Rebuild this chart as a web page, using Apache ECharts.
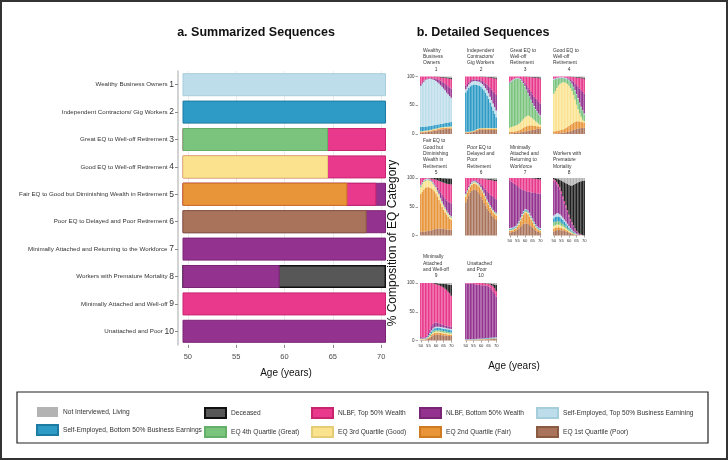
<!DOCTYPE html>
<html><head><meta charset="utf-8">
<script src="https://cdn.jsdelivr.net/npm/echarts@6/dist/echarts.min.js"></script>
<style>html,body{margin:0;padding:0;background:#fff}#c{width:728px;height:460px}</style>
</head><body><div id="c"></div>
<script>
// ================= DATA =================
const clusterNames = ['Wealthy Business Owners','Independent Contractors/ Gig Workers','Great EQ to Well-off Retirement','Good EQ to Well-off Retirement','Fair EQ to Good but Diminishing Wealth in Retirement','Poor EQ to Delayed and Poor Retirement','Minimally Attached and Returning to the Workforce','Workers with Premature Mortality','Minimally Attached and Well-off','Unattached and Poor'];
const clusterNumbers = ['1','2','3','4','5','6','7','8','9','10'];
const ageTicks = [50,55,60,65,70];
const ages = ['50','51','52','53','54','55','56','57','58','59','60','61','62','63','64','65','66','67','68','69','70'];
const stateNames = ['EQ 1st Quartile (Poor)','EQ 2nd Quartile (Fair)','EQ 3rd Quartile (Good)','EQ 4th Quartile (Great)','Self-Employed, Bottom 50% Business Earnings','Self-Employed, Top 50% Business Earnining','NLBF, Bottom 50% Wealth','NLBF, Top 50% Wealth','Deceased','Not Interviewed, Living'];

// Panel a: age at which each summarized state ends (later states are drawn underneath earlier ones)
const endPoor      = [null,null,null,null,null,68.5,null,null,null,null];
const endFair      = [null,null,null,null,66.5,null,null,null,null,null];
const endGood      = [null,null,null,64.5,null,null,null,null,null,null];
const endGreat     = [null,null,64.5,null,null,null,null,null,null,null];
const endSEBottom  = [null,70.5,null,null,null,null,null,null,null,null];
const endSETop     = [70.5,null,null,null,null,null,null,null,null,null];
const endNBottom   = [null,null,null,null,70.5,70.5,70.5,59.5,null,70.5];
const endNTop      = [null,null,70.5,70.5,69.5,null,null,null,70.5,null];
const endDeceased  = [null,null,null,null,null,null,null,70.5,null,null];

// Panel b: % composition per age 50..70
const p1Poor=[2,2,2.5,3,3,3.5,4,4.5,5,5.5,6,6.5,7,7.5,8,8,8.5,8.5,9,9,9];
const p1Fair=[1.5,1.5,1.5,1.5,1.5,1.5,1.5,1.5,2,2,2,2,2.5,2.5,2.5,2.5,2.5,2.5,2.5,2.5,2.5];
const p1Good=[1,1,1,1,1,1,1,1,1,1,1,1,1,1,1,1,1,1,1,1,1];
const p1Great=[0.5,0.5,0.5,0.5,0.5,0.5,0.5,0.5,0.5,0.5,0.5,0.5,0.5,0.5,0.5,0.5,0.5,0.5,0.5,0.5,0.5];
const p1SEBottom=[7,7,7,7,7,7,7,7,6.5,6.5,6.5,6.5,6,6,6,6.5,6.5,7,7,7.5,8];
const p1SETop=[72,76,78.5,81,82,82.5,82.5,81.5,80,78.5,76,73.5,71,67.5,64,60.5,57,52.5,49,45.5,42];
const p1NBottom=[3,2,2,1,1.5,1,1,1.5,2,2.5,4,5,6,8,9,10,11,13,14,15,16];
const p1NTop=[13,10,7,5,3.5,3,2.5,2.5,3,3,3.5,4,5,5.5,7,9,10.5,12,13.5,15,16.5];
const p1Dec=[0,0,0,0,0,0,0,0,0,0.3,0.3,0.5,0.5,0.8,1,1,1.2,1.5,1.7,2,2.3];
const p1NotInt=[0,0,0,0,0,0,0,0,0,0.2,0.2,0.5,0.5,0.7,1,1,1.3,1.5,1.8,2,2.2];

const p2Poor=[2,2,2,2.5,3,3.5,4,5,6,7,7.5,7.5,7.5,7,7,7,7,7,7,7,7];
const p2Fair=[1,1,1,1,1,1,1.5,2,2,2,2,2,2,2,2,2,2,2,2,2,2];
const p2Good=[0.5,0.5,0.5,0.5,0.5,0.5,0.5,0.5,0.5,0.5,0.5,0.5,0.5,1,1,1,1,1,1,1,1];
const p2Great=[0.5,0.5,0.5,0.5,0.5,0.5,0.5,0.5,0.5,0.5,0.5,0.5,0.5,0.5,0.5,0.5,0.5,0.5,0.5,0.5,0.5];
const p2SEBottom=[68,72,76,78.5,80,80.5,79.5,77.5,76,74,71.5,68.5,65.5,61.5,56.5,50.5,44.5,37.5,30.5,24.5,18.5];
const p2SETop=[6,6,6,6,6,6,6,6.5,6.5,7,7,8,8,8,9,10,10,11,12,12,12];
const p2NBottom=[6,5,4,3,3,3,3,3,3,3,4,5,6,8,10,12,15,18,21,24,27];
const p2NTop=[16,13,10,8,6,5,5,5,5.5,6,6.5,7.5,9,11,12.5,15.5,18,20.5,23,25.5,28];
const p2Dec=[0,0,0,0,0,0,0,0,0,0,0.3,0.3,0.6,0.5,0.8,0.7,1,1.3,1.5,1.8,2];
const p2NotInt=[0,0,0,0,0,0,0,0,0,0,0.2,0.2,0.4,0.5,0.7,0.8,1,1.2,1.5,1.7,2];

const p3Poor=[1.5,1.5,1.5,2,2,2,2.5,3,3.5,4,4.5,5,5.5,6,6.5,7,7.5,8,8.5,9,9];
const p3Fair=[2.5,2.5,2.5,2.5,3,3.5,4,4.5,5.5,6.5,7.5,8.5,9,9,8.5,8,7,6,5,4,3.5];
const p3Good=[7,8,9,9.5,10,10.5,11.5,12.5,14,15.5,17,17.5,17.5,16,14,12,10.5,8,6.5,5,3.5];
const p3Great=[77,79,80,80.5,80.5,80,77.5,74,68,61,53,45,38,33,29,25,22,20,18,16,15];
const p3SEBottom=[0.5,0.5,0.5,0.5,0.5,0.5,0.5,0.5,0.5,0.5,0.5,0.5,0.5,0.5,0.5,0.5,0.5,0.5,0.5,0.5,0.5];
const p3SETop=[1,1,1,1,1,1,1,1,1,1,1,1,1,1,1,1,1,1,1,1,1];
const p3NBottom=[1.5,0.5,0.5,0.5,0.5,0.5,0.5,1.5,2.5,3.5,5.5,7.5,9.5,11.5,13.5,15.5,16.5,18.5,19.5,20.5,20.5];
const p3NTop=[9,7,5,3.5,2.5,2,2.5,3,5,8,10.5,14.5,18,22,25.5,29.5,33,36,38.5,41,43.5];
const p3Dec=[0,0,0,0,0,0,0,0,0,0,0.3,0.3,0.5,0.5,0.8,0.8,1,1,1.3,1.5,1.8];
const p3NotInt=[0,0,0,0,0,0,0,0,0,0,0.2,0.2,0.5,0.5,0.7,0.7,1,1,1.2,1.5,1.7];

const p4Poor=[1,1,1,1.5,1.5,2,2,2.5,3,3.5,4,5,6,7,8,9,9.5,10,10.5,11,11];
const p4Fair=[4,4,4.5,4.5,5,5,6,6.5,7.5,8.5,10,11,12,13,13,13,12.5,11.5,10.5,9.5,9];
const p4Good=[65,70,74.5,78,80.5,82,82,81,78.5,75,70,64,57,48,39,29,21,14.5,9,4.5,2];
const p4Great=[24,20,16,12.5,10,8,7,6.5,7,8,9,10,11,13,15,17,18,17,16,15,12];
const p4SEBottom=[0.5,0.5,0.5,0.5,0.5,0.5,0.5,0.5,0.5,0.5,0.5,0.5,0.5,0.5,0.5,0.5,0.5,0.5,0.5,0.5,0.5];
const p4SETop=[1,1,1,1,1,1,1,1,1,1,1,1,1,1,1,1,1,1,1,1,1];
const p4NBottom=[0.5,0.5,0.5,0.5,0,0,0,0.5,0.5,1,1.5,3.5,5.5,8.5,11.5,15.5,19.5,24.5,28.5,31.5,34.5];
const p4NTop=[4,3,2,1.5,1.5,1.5,1.5,1.5,2,2.5,3.5,4.5,6,8,10.5,13,16,18.5,21,23.5,26];
const p4Dec=[0,0,0,0,0,0,0,0,0,0,0.3,0.3,0.5,0.5,0.8,1,1,1.2,1.5,1.7,2];
const p4NotInt=[0,0,0,0,0,0,0,0,0,0,0.2,0.2,0.5,0.5,0.7,1,1,1.3,1.5,1.8,2];

const p5Poor=[7,7,7,7,7.5,8,8.5,9,10,11,11.5,12,12,12,12,11.5,11,10.5,10,10,10];
const p5Fair=[65,69,73,76,76.5,76,75,73,70,66,61.5,56,50,44,38,33.5,29,25.5,22,19,17];
const p5Good=[12,13,13,12,12,12,11.5,11,10,9,9,8,8,7,7,6,6,5,5,4,4];
const p5Great=[2,2,1.5,1.5,1,1,1,1,1,1,1,1,1,1,1,1,1,1,1,1,1];
const p5SEBottom=[0.5,0.5,0.5,0.5,0.5,0.5,0.5,0.5,0.5,0.5,0.5,0.5,0.5,0.5,0.5,0.5,0.5,0.5,0.5,0.5,0.5];
const p5SETop=[1,1,1,1,1,1,1,1,1,1,1,1,1,1,1,1,1,1,1,1,1];
const p5NBottom=[1,0.5,0.5,0.5,0.5,0.5,0.5,1,1.5,2,2.5,4.5,6.5,9.5,11.5,13.5,15.5,17.5,19.5,21.5,22.5];
const p5NTop=[11.5,7,3.5,1.5,1,1,1.5,2.5,4.5,7.5,10,13,16,19,22,25,27,29,30.5,32,32.5];
const p5Dec=[0,0,0,0,0,0,0.5,1,1.5,2,3,4,5,6,6.7,7.5,8.5,9.2,9.5,10,10.3];
const p5NotInt=[0,0,0,0,0,0,0,0,0,0,0,0,0,0,0.3,0.5,0.5,0.8,1,1,1.2];

const p6Poor=[58,64,70,75,78,80,80,79,76,72,67,62,57,52,47,43,39,35,32,29,27];
const p6Fair=[10,10,10,10,10,10,10,10,11,12,13,13,13,12,11,10,9,9,8,8,8];
const p6Good=[2,2,2,2,2,2,2,2,2,2,2,2,2,2,2,2,2,2,2,2,2];
const p6Great=[1,1,1,1,1,1,1,1,1,1,1,1,1,1,1,1,1,1,1,1,1];
const p6SEBottom=[0.5,0.5,0.5,0.5,0.5,0.5,0.5,0.5,0.5,0.5,0.5,0.5,0.5,0.5,0.5,0.5,0.5,0.5,0.5,0.5,0.5];
const p6SETop=[1,1,1,1,1,1,1,1,1,1,1,1,1,1,1,1,1,1,1,1,1];
const p6NBottom=[3.5,3.5,2.5,1.5,1.5,1,1.5,2,2.5,3.5,4.5,6.5,8.5,11.5,14.5,16.5,18.5,20.5,22.5,23.5,23.5];
const p6NTop=[24,18,13,9,6,4.5,4,4.5,5.5,7.5,10,13,15.5,18,20.5,23,25.5,27,28.5,30,31.5];
const p6Dec=[0,0,0,0,0,0,0,0,0.3,0.3,0.5,0.5,0.8,1,1.2,1.5,1.7,2,2.2,2.5,2.7];
const p6NotInt=[0,0,0,0,0,0,0,0,0.2,0.2,0.5,0.5,0.7,1,1.3,1.5,1.8,2,2.3,2.5,2.8];

const p7Poor=[5,5.5,6,7,8,10,12,15,18,20,21,21,20,18,16,14,11,9,7,6,5];
const p7Fair=[3,3,3,3.5,4,5,7,10,13,16,18,18,17,15,12,9,7,5,4,3,3];
const p7Good=[1,1,1,1,1,1.5,2,2,2,2,2,2,2,2,2,2,2,1.5,1,1,1];
const p7Great=[1,1,1,1,1,1,1,1,1.5,1.5,1.5,1.5,1.5,1.5,1.5,1.5,1,1,1,1,1];
const p7SEBottom=[1.5,1.5,1.5,1.5,1.5,1.5,1.5,1.5,1.5,1.5,1.5,1.5,1.5,1.5,1.5,1.5,1.5,1.5,1.5,1.5,1.5];
const p7SETop=[1.5,1.5,1.5,1.5,1.5,1.5,1.5,1.5,1.5,1.5,1.5,1.5,1.5,1.5,1.5,1.5,1.5,1.5,1.5,1.5,1.5];
const p7NBottom=[83,80.5,78,74.5,71,65.5,59,51,42.5,36.5,32.5,31.5,32.5,36.5,40.5,45.5,50,54.5,57,59,60];
const p7NTop=[4,6,8,10,12,14,16,18,20,21,22,23,24,24,24.5,24.3,25,24.7,25.4,25,24.5];
const p7Dec=[0,0,0,0,0,0,0,0,0,0,0,0,0,0,0.5,0.7,1,1.3,1.6,2,2.5];
const p7NotInt=[0,0,0,0,0,0,0,0,0,0,0,0,0,0,0,0,0,0,0,0,0];

const p8Poor=[7,8,9,9.5,9.5,9,8.5,8,7,6,5,4,3,2,1.5,1,0.5,0.3,0.2,0.1,0];
const p8Fair=[5,5,5,5,4.5,4,3.5,3,2.5,2,1.5,1,1,1,0.5,0.3,0.3,0.2,0.1,0.1,0];
const p8Good=[5,5,5,4.5,4.5,4,3.5,3,2.5,2,1.5,1.5,1,0.5,0.5,0.3,0.2,0.1,0.1,0,0];
const p8Great=[6,6,6,6,5.5,5,4.5,4,3.5,3,2.5,2,1.5,1,0.5,0.4,0.2,0.1,0.1,0.1,0];
const p8SEBottom=[7,8,8,8,8,7.5,7,6,5.5,4.5,3.5,2.5,2,1.5,1,0.5,0.3,0.2,0.1,0,0];
const p8SETop=[5,5,5.5,5.5,5,5,4.5,4,3.5,3,2.5,2,1.5,1,0.7,0.5,0.3,0.1,0.1,0.1,0];
const p8NBottom=[61,56,50.5,46.5,43,38.5,32.5,28,24.5,20.5,16.5,13,11,9,6.3,4,2.2,1.5,0.8,0.4,0.3];
const p8NTop=[2,3,4,4,4,4,4,4,3,3,3,3,2,1.5,1,1,1,0.5,0.3,0.2,0.2];
const p8Dec=[2,3.5,6,9,13,18.5,26,32.5,39,45.5,52,58,64,70.5,77.5,83,87.5,90.5,92.7,94,95];
const p8NotInt=[0,0.5,1,2,3,4.5,6,7.5,9,10.5,12,13,13,12,10.5,9,7.5,6.5,5.5,5,4.5];

const p9Poor=[1,1,1,1.5,2,3,5,7,8.5,9.5,10,10,10,9.5,9,9,8.5,8.5,8,8,8];
const p9Fair=[0.5,0.5,0.5,0.5,1,1.5,2,2.5,3,3.5,3.5,3.5,3.5,3.5,3.5,3,3,2.5,2.5,2.5,2.5];
const p9Good=[0.5,0.5,0.5,0.5,0.5,1,1,1.5,2,2,2,2,2,2,2,2,2,2,2,1.5,1.5];
const p9Great=[0.5,0.5,0.5,0.5,0.5,1,1.5,2,2.5,2.5,2.5,2.5,2.5,2.5,2.5,2.5,2.5,2.5,2.5,2.5,2];
const p9SEBottom=[0.5,0.5,0.5,0.5,1,1.5,2,2.5,3,3.5,4,4,4,4,4,4,4,4,4,4,4];
const p9SETop=[0.5,0.5,0.5,0.5,0.5,1,1.5,2,2,2,2,2,2,2,2,2,2,2,2,2,2];
const p9NBottom=[2.5,2,1.5,1.5,2.5,4,6,7.5,8,8,7.5,7,6,5.5,5,4.5,4,4,4,4,4];
const p9NTop=[94,94.5,95,94.5,92,87,81,75,70.5,68,66.5,66,66,66,65.5,65,64,62.5,60,57.5,54];
const p9Dec=[0,0,0,0,0,0,0,0,0.5,1,1.8,2.5,3.3,4,5.3,6.5,8.3,10,12.5,15,18.5];
const p9NotInt=[0,0,0,0,0,0,0,0,0,0,0.2,0.5,0.7,1,1.2,1.5,1.7,2,2.5,3,3.5];

const p10Poor=[0.5,0.5,0.5,0.5,0.7,0.8,1,1,1.2,1.3,1.5,1.5,1.7,1.8,2,2,2.2,2.3,2.5,2.5,2.5];
const p10Fair=[0.3,0.3,0.3,0.4,0.3,0.4,0.4,0.5,0.5,0.6,0.5,0.6,0.6,0.6,0.6,0.7,0.7,0.7,0.7,0.8,0.8];
const p10Good=[0.2,0.2,0.2,0.2,0.2,0.2,0.2,0.3,0.3,0.3,0.3,0.3,0.3,0.4,0.4,0.4,0.4,0.4,0.4,0.4,0.4];
const p10Great=[0.2,0.2,0.2,0.2,0.2,0.2,0.2,0.2,0.2,0.2,0.2,0.2,0.2,0.2,0.2,0.2,0.2,0.2,0.2,0.2,0.2];
const p10SEBottom=[0.5,0.5,0.5,0.5,0.5,0.5,0.6,0.6,0.7,0.7,0.8,0.8,0.9,0.9,1,1,1.1,1.2,1.3,1.3,1.3];
const p10SETop=[0.3,0.3,0.3,0.3,0.3,0.3,0.3,0.3,0.3,0.3,0.3,0.3,0.3,0.3,0.3,0.3,0.3,0.3,0.3,0.3,0.3];
const p10NBottom=[97,97,97,96.9,96.8,96.1,95.3,94.6,93.8,93.1,92.4,92.3,92,91.3,90.5,89.4,87.1,83.9,79.6,75.5,70.5];
const p10NTop=[1,1,1,1,1,1.5,2,2.5,3,3.5,4,4,3.5,3.5,4,4.5,5.5,7,9,10,10];
const p10Dec=[0,0,0,0,0,0,0,0,0,0,0,0,0.5,0.8,0.5,0.8,1.5,2.5,4,6.5,10.5];
const p10NotInt=[0,0,0,0,0,0,0,0,0,0,0,0,0,0.2,0.5,0.7,1,1.5,2,2.5,3.5];

const panelTitles = ['Wealthy\nBusiness\nOwners','Independent\nContractors/\nGig Workers','Great EQ to\nWell-off\nRetirement','Good EQ to\nWell-off\nRetirement','Fair EQ to\nGood but\nDiminishing\nWealth in\nRetirement','Poor EQ to\nDelayed and\nPoor\nRetirement','Minimally\nAttached and\nReturning to\nWorkforce','Workers with\nPremature\nMortality','Minimally\nAttached\nand Well-off','Unattached\nand Poor'];

const legendColumns = [
  ['Not Interviewed, Living','Self-Employed, Bottom 50% Business Earnings'],
  ['Deceased','EQ 4th Quartile (Great)'],
  ['NLBF, Top 50% Wealth','EQ 3rd Quartile (Good)'],
  ['NLBF, Bottom 50% Wealth','EQ 2nd Quartile (Fair)'],
  ['Self-Employed, Top 50% Business Earnining','EQ 1st Quartile (Poor)']
];

// ================= STYLE =================
const FONT = '"Liberation Sans", Arial, Helvetica, sans-serif';
const fills   = ['#a8735a','#e8953a','#fbe28e','#7bc47e','#2e9bc6','#bcdde9','#94338f','#e8398c','#575757','#b3b3b3'];
const borders = ['#8a5a43','#cf7b22','#e6cc77','#64b068','#1c7aa3','#a6cddb','#7a2475','#c9256f','#111111','#9e9e9e'];
const detailFills = ['#a8735a','#e8953a','#fbe28e','#7bc47e','#2e9bc6','#bcdde9','#94338f','#e8398c','#1e1e1e','#b3b3b3'];

const panels = [
  [p1Poor,p1Fair,p1Good,p1Great,p1SEBottom,p1SETop,p1NBottom,p1NTop,p1Dec,p1NotInt],
  [p2Poor,p2Fair,p2Good,p2Great,p2SEBottom,p2SETop,p2NBottom,p2NTop,p2Dec,p2NotInt],
  [p3Poor,p3Fair,p3Good,p3Great,p3SEBottom,p3SETop,p3NBottom,p3NTop,p3Dec,p3NotInt],
  [p4Poor,p4Fair,p4Good,p4Great,p4SEBottom,p4SETop,p4NBottom,p4NTop,p4Dec,p4NotInt],
  [p5Poor,p5Fair,p5Good,p5Great,p5SEBottom,p5SETop,p5NBottom,p5NTop,p5Dec,p5NotInt],
  [p6Poor,p6Fair,p6Good,p6Great,p6SEBottom,p6SETop,p6NBottom,p6NTop,p6Dec,p6NotInt],
  [p7Poor,p7Fair,p7Good,p7Great,p7SEBottom,p7SETop,p7NBottom,p7NTop,p7Dec,p7NotInt],
  [p8Poor,p8Fair,p8Good,p8Great,p8SEBottom,p8SETop,p8NBottom,p8NTop,p8Dec,p8NotInt],
  [p9Poor,p9Fair,p9Good,p9Great,p9SEBottom,p9SETop,p9NBottom,p9NTop,p9Dec,p9NotInt],
  [p10Poor,p10Fair,p10Good,p10Great,p10SEBottom,p10SETop,p10NBottom,p10NTop,p10Dec,p10NotInt]
];
// panel a layers, back to front, as [state index, data]
const summaryLayers = [[8,endDeceased],[6,endNBottom],[7,endNTop],[5,endSETop],[4,endSEBottom],[3,endGreat],[2,endGood],[1,endFair],[0,endPoor]];

const grids = [{left:183, top:71, width:203, height:274, outerBoundsMode:'none'}];
const xAxes = [{
  gridIndex:0, type:'value', min:49.5, max:70.5,
  axisLine:{show:false},
  axisTick:{show:true, customValues:ageTicks, length:3, lineStyle:{color:'#888', width:1}},
  axisLabel:{customValues:ageTicks, fontSize:7.5, color:'#4d4d4d', margin:8, fontFamily:FONT},
  splitLine:{show:true, lineStyle:{color:'#ececec', width:1}}
}];
const yAxes = [{
  gridIndex:0, type:'category', inverse:true, data:clusterNames, offset:5,
  axisLine:{show:true, lineStyle:{color:'#c4c4c4', width:1.5}},
  axisTick:{show:true, alignWithLabel:true, length:3, lineStyle:{color:'#888', width:1}},
  axisLabel:{margin:4, formatter:(v,i)=>'{nm|'+v+' }{no|'+clusterNumbers[i]+'}',
    rich:{nm:{fontSize:6.2, color:'#333', fontFamily:FONT}, no:{fontSize:8.5, color:'#333', fontFamily:FONT}}},
  splitLine:{show:false}
}];
const series = [];
summaryLayers.forEach(([s,d])=>{
  series.push({type:'bar', name:stateNames[s], xAxisIndex:0, yAxisIndex:0, data:d,
    barGap:'-100%', barCategoryGap:'16%', silent:true,
    itemStyle:{color:fills[s], borderColor:borders[s], borderWidth:s===8?1.4:1}});
});

const colLeft = [420,465,509,553];
const rowTop = [76.5,178,283];
const numberY = [69.3,172.7,276];
const textShift = [3,2,1,0];
const graphics = [];
panels.forEach((pd,p)=>{
  const r = Math.floor(p/4), c = p%4;
  const showX = p>=6, showY = c===0;
  grids.push({left:colLeft[c], top:rowTop[r], width:32, height:57.5, outerBoundsMode:'none'});
  xAxes.push({gridIndex:p+1, type:'category', data:ages, axisLine:{show:false},
    axisTick:{show:showX, alignWithLabel:true, interval:4, length:2, lineStyle:{color:'#666', width:0.6}},
    axisLabel:{show:showX, interval:4, fontSize:4.2, color:'#333', margin:3, fontFamily:FONT},
    splitLine:{show:false}});
  yAxes.push({gridIndex:p+1, type:'value', min:0, max:100, interval:50, offset:2,
    axisLine:{show:false},
    axisTick:{show:showY, length:2.5, lineStyle:{color:'#666', width:0.6}},
    axisLabel:{show:showY, fontSize:4.5, color:'#333', margin:3.5, fontFamily:FONT},
    splitLine:{show:false}});
  pd.forEach((d,s)=>{
    series.push({type:'bar', name:stateNames[s], xAxisIndex:p+1, yAxisIndex:p+1, stack:'panel'+p,
      data:d, barCategoryGap:'10%', silent:true, itemStyle:{color:detailFills[s], borderWidth:0}});
  });
  graphics.push({type:'text', x:colLeft[c]+textShift[c], y:numberY[r]-3.2, silent:true,
    style:{text:panelTitles[p], fontSize:4.9, lineHeight:6.3, fill:'#333', fontFamily:FONT, align:'left', verticalAlign:'bottom'}});
  graphics.push({type:'text', x:colLeft[c]+16, y:numberY[r], silent:true,
    style:{text:clusterNumbers[p], fontSize:4.9, fill:'#333', fontFamily:FONT, align:'center', verticalAlign:'middle'}});
});

graphics.push(
  {type:'text', x:256, y:33, silent:true, style:{text:'a. Summarized Sequences', fontSize:12.5, fontWeight:'bold', fill:'#111', fontFamily:FONT, align:'center', verticalAlign:'middle'}},
  {type:'text', x:483, y:33, silent:true, style:{text:'b. Detailed Sequences', fontSize:12.5, fontWeight:'bold', fill:'#111', fontFamily:FONT, align:'center', verticalAlign:'middle'}},
  {type:'text', x:393, y:243, rotation:Math.PI/2, silent:true, style:{text:'% Composition of EQ Category', fontSize:12, fill:'#111', fontFamily:FONT, align:'center', verticalAlign:'middle'}},
  {type:'text', x:286, y:373, silent:true, style:{text:'Age (years)', fontSize:10, fill:'#111', fontFamily:FONT, align:'center', verticalAlign:'middle'}},
  {type:'text', x:514, y:366, silent:true, style:{text:'Age (years)', fontSize:10, fill:'#111', fontFamily:FONT, align:'center', verticalAlign:'middle'}},
  {type:'rect', shape:{x:17, y:392, width:691, height:51}, silent:true, style:{fill:'none', stroke:'#222', lineWidth:1.2}},
  {type:'rect', shape:{x:1, y:1, width:726, height:458}, silent:true, z:100, style:{fill:'none', stroke:'#333', lineWidth:2}}
);

const legendLeft = [36,204,311,419,536];
const legends = legendColumns.map((names,i)=>({
  left:legendLeft[i], top:407, orient:'vertical', data:names, icon:'rect', padding:0,
  itemWidth:21, itemHeight:10, itemGap:7, selectedMode:false,
  textStyle:{fontSize:6.6, color:'#333', fontFamily:FONT}
}));

const chart = echarts.init(document.getElementById('c'), null, {renderer:'canvas', width:728, height:460});
chart.setOption({
  animation:false,
  backgroundColor:'#ffffff',
  textStyle:{fontFamily:FONT},
  grid:grids, xAxis:xAxes, yAxis:yAxes, series:series,
  legend:legends, graphic:graphics
});
</script></body></html>
